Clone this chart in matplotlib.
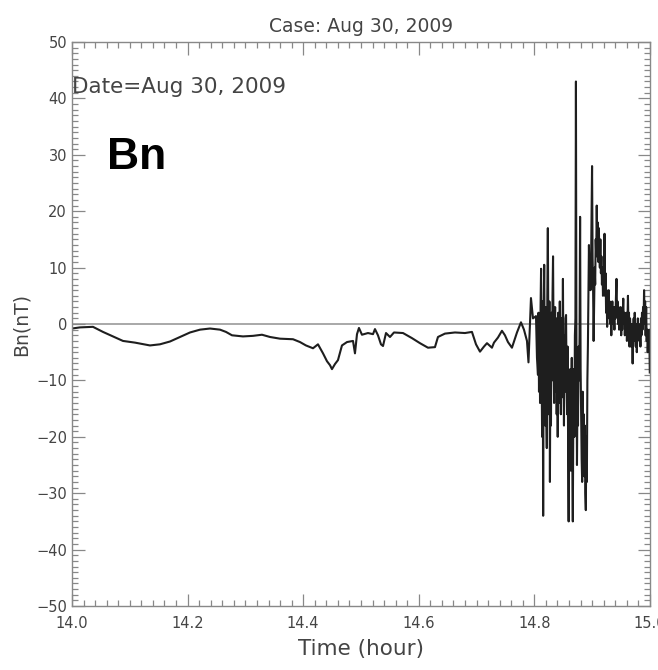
import matplotlib
matplotlib.use("Agg")
import matplotlib.pyplot as plt
from matplotlib.ticker import MultipleLocator, FormatStrFormatter

# quiet interval before the event (time in hours UT, Bn in nT)
t_quiet = [14.0000, 14.0138, 14.0363, 14.0536, 14.0709, 14.0882, 14.1090, 14.1349,
           14.1522, 14.1696, 14.1869, 14.2042, 14.2215, 14.2388, 14.2561, 14.2664,
           14.2768, 14.2958, 14.3131, 14.3287, 14.3426, 14.3599, 14.3824, 14.3945,
           14.4048, 14.4170, 14.4256, 14.4343, 14.4412, 14.4464, 14.4498, 14.4550,
           14.4602, 14.4671, 14.4758, 14.4862, 14.4896, 14.4931, 14.4965, 14.5017,
           14.5121, 14.5208, 14.5242, 14.5294, 14.5346, 14.5381, 14.5433, 14.5502,
           14.5571, 14.5727, 14.5882, 14.6021, 14.6159, 14.6280, 14.6332, 14.6453,
           14.6626, 14.6799, 14.6920, 14.6990, 14.7059, 14.7128, 14.7180, 14.7266,
           14.7301, 14.7370, 14.7439, 14.7491, 14.7543, 14.7612, 14.7699, 14.7768,
           14.7820, 14.7872, 14.7898, 14.7941, 14.7976, 14.8028, 14.8045]
bn_quiet = [-0.8, -0.6, -0.5, -1.4, -2.2, -3.0, -3.3, -3.8,
            -3.6, -3.1, -2.3, -1.5, -1.0, -0.8, -1.0, -1.4,
            -2.0, -2.2, -2.1, -1.9, -2.3, -2.6, -2.7, -3.2,
            -3.8, -4.3, -3.6, -5.2, -6.6, -7.3, -8.0, -7.1,
            -6.4, -3.8, -3.2, -3.0, -5.2, -1.8, -0.7, -1.9,
            -1.6, -1.8, -0.9, -2.0, -3.6, -3.9, -1.6, -2.3,
            -1.5, -1.6, -2.5, -3.4, -4.2, -4.1, -2.3, -1.7,
            -1.5, -1.6, -1.4, -3.6, -4.9, -4.0, -3.4, -4.2,
            -3.3, -2.4, -1.2, -2.0, -3.2, -4.2, -1.5, 0.3,
            -1.0, -3.0, -6.8, 4.6, 1.0, 1.4, -6.0]

# disturbed interval, strong oscillations
t_event = [14.8062, 14.8071, 14.8080, 14.8089, 14.8098, 14.8107, 14.8116, 14.8125,
           14.8134, 14.8143, 14.8152, 14.8161, 14.8170, 14.8179, 14.8188, 14.8197,
           14.8206, 14.8215, 14.8224, 14.8233, 14.8242, 14.8251, 14.8260, 14.8269,
           14.8278, 14.8287, 14.8296, 14.8305, 14.8314, 14.8323, 14.8332, 14.8341,
           14.8350, 14.8359, 14.8368, 14.8377, 14.8386, 14.8395, 14.8404, 14.8413,
           14.8422, 14.8431, 14.8440, 14.8449, 14.8458, 14.8467, 14.8476, 14.8485,
           14.8494, 14.8503, 14.8512, 14.8521, 14.8530, 14.8539, 14.8548, 14.8557,
           14.8566, 14.8575, 14.8584, 14.8593, 14.8602, 14.8611, 14.8620, 14.8629,
           14.8638, 14.8647, 14.8656, 14.8665, 14.8674, 14.8683, 14.8692, 14.8701,
           14.8710, 14.8719, 14.8728, 14.8737, 14.8746, 14.8755, 14.8764, 14.8773,
           14.8782, 14.8791, 14.8800, 14.8809, 14.8818, 14.8827, 14.8836, 14.8845,
           14.8854, 14.8863, 14.8872, 14.8881, 14.8890, 14.8899, 14.8908, 14.8917,
           14.8926, 14.8935, 14.8944, 14.8953]
bn_event = [-9, 2, -12, 1, -14, 3, 9.8, -8,
            -20, 4, -34, 2, 10.5, -6, -18, 3,
            -15, -22, 5, 17, -2, -16, 4, -28,
            -4, -18, 2, -10, 5, 12, -3, -14,
            -2, 3, -12, 1, -16, -4, -20, 2,
            -6, -14, 4, -8, -16, 1, -13, -2,
            8, -8, -18, -2, -12, 1, 1.6, -10,
            -16, -4, -22, -35, -10, -24, -8, -26,
            -14, -6, -24, -35, -16, -8, -20, -2,
            1, 43, -6, -25, -12, -18, -4, -10,
            -2, 19, -8, -16, -24, -28, -12, -26,
            -16, -27, -18, -30, -33, -20, -28, -10,
            -4, 6, 14, 8]

# recovery tail
t_tail = [14.8962, 14.8971, 14.8980, 14.8989, 14.8998, 14.9007, 14.9016, 14.9025,
          14.9034, 14.9043, 14.9052, 14.9061, 14.9070, 14.9079, 14.9088, 14.9097,
          14.9106, 14.9115, 14.9124, 14.9133, 14.9142, 14.9151, 14.9160, 14.9169,
          14.9178, 14.9187, 14.9196, 14.9205, 14.9214, 14.9223, 14.9232, 14.9241,
          14.9250, 14.9259, 14.9268, 14.9277, 14.9286, 14.9295, 14.9304, 14.9313,
          14.9322, 14.9331, 14.9340, 14.9349, 14.9358, 14.9367, 14.9376, 14.9385,
          14.9394, 14.9403, 14.9412, 14.9421, 14.9430, 14.9439, 14.9448, 14.9457,
          14.9466, 14.9475, 14.9484, 14.9493, 14.9502, 14.9511, 14.9520, 14.9529,
          14.9538, 14.9547, 14.9556, 14.9565, 14.9574, 14.9583, 14.9592, 14.9601,
          14.9610, 14.9619, 14.9628, 14.9637, 14.9646, 14.9655, 14.9664, 14.9673,
          14.9682, 14.9691, 14.9700, 14.9709, 14.9718, 14.9727, 14.9736, 14.9745,
          14.9754, 14.9763, 14.9772, 14.9781, 14.9790, 14.9799, 14.9808, 14.9817,
          14.9826, 14.9835, 14.9844, 14.9853, 14.9862, 14.9871, 14.9880, 14.9889,
          14.9898, 14.9907, 14.9916, 14.9925, 14.9934, 14.9943, 14.9952, 14.9961,
          14.9970, 14.9979, 14.9988, 14.9997]
bn_tail = [12, 6, 10, 20, 28, 12, 6, -3,
           4, 10, 7, 15, 12, 21, 14, 18,
           11, 17, 13, 10, 15, 9, 12, 7,
           10, 5, 8, 6, 16, 5, 9, 2,
           6, -0.5, 5, 3, 6, 1, 4, 0,
           3, -2, 2, 4, 0, 3, 1, -1,
           3, 1, 5, 8, 2, 4, 0, 3,
           -1, 2, 0, 3, -2, 1, -1, 2,
           4.5, 0, 2, -2, 1, -1, 2, -3,
           0, 5, -1, 2, -4, 1, -1, -4,
           0, -2, -7, -2, 1, -3, 2, -1,
           -4, 0, -5, -2, 1, -2, 0, -3,
           -1, -4, 1, -2, 2, -1, 3, 0,
           6, 1, 4, -2, 3, -3, -1, -5,
           -2, -4, -1, -8.6]

time = t_quiet + t_event + t_tail
bn = bn_quiet + bn_event + bn_tail

txt = "#444444"
fig = plt.figure(figsize=(6.58, 6.70), dpi=100)
ax = fig.add_axes([0.1094, 0.0955, 0.8784, 0.8418])

ax.axhline(0, color="#999999", lw=1.2, zorder=1)
ax.plot(time, bn, color="#1e1e1e", lw=1.5, zorder=2)

ax.set_xlim(14.0, 15.0)
ax.set_ylim(-50, 50)
ax.xaxis.set_major_locator(MultipleLocator(0.2))
ax.xaxis.set_minor_locator(MultipleLocator(0.02))
ax.xaxis.set_major_formatter(FormatStrFormatter("%.1f"))
ax.yaxis.set_major_locator(MultipleLocator(10))
ax.yaxis.set_minor_locator(MultipleLocator(1))
ax.tick_params(which="both", direction="in", top=True, right=True,
               colors="#888888", labelcolor=txt, labelsize=10.5, width=0.9)
ax.tick_params(which="major", length=9)
ax.tick_params(which="minor", length=4.5)
ax.tick_params(axis="x", pad=7)
for s in ax.spines.values():
    s.set_color("#888888")
    s.set_linewidth(1.0)

ax.set_xlabel("Time (hour)", fontsize=15.5, color=txt, labelpad=6)
ax.set_ylabel("Bn(nT)", fontsize=13.5, color=txt, labelpad=4)
ax.set_title("Case: Aug 30, 2009", fontsize=13.5, color=txt, pad=7)

ax.text(14.0, 42, "Date=Aug 30, 2009", fontsize=15.5, color=txt, va="center", ha="left")
ax.text(14.06, 27.5, "Bn", fontsize=32, fontweight="bold", family="Liberation Sans",
        color="black", va="baseline", ha="left")

fig.savefig("out.png", dpi=100)
